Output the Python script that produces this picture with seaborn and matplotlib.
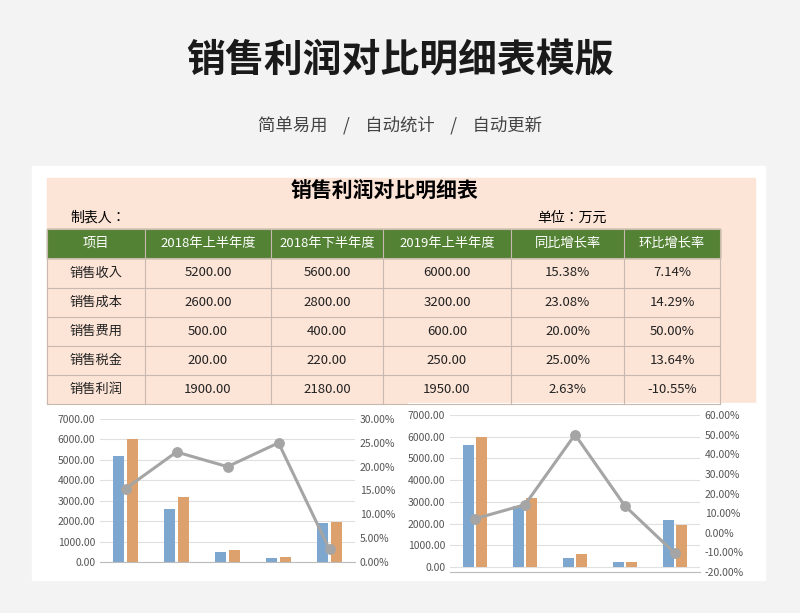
import numpy as np
import pandas as pd
import matplotlib.pyplot as plt
import seaborn as sns
from matplotlib.patches import Rectangle
from matplotlib.ticker import FuncFormatter

CJK = ['Noto Sans CJK SC', 'Noto Sans CJK JP', 'Noto Sans CJK TC', 'Noto Sans CJK KR', 'DejaVu Sans']
plt.rcParams['font.family'] = 'sans-serif'
plt.rcParams['font.sans-serif'] = CJK
plt.rcParams['axes.unicode_minus'] = False

# data
items = ['销售收入', '销售成本', '销售费用', '销售税金', '销售利润']
h1_2018 = [5200.00, 2600.00, 500.00, 200.00, 1900.00]
h2_2018 = [5600.00, 2800.00, 400.00, 220.00, 2180.00]
h1_2019 = [6000.00, 3200.00, 600.00, 250.00, 1950.00]
yoy = [15.38, 23.08, 20.00, 25.00, 2.63]
mom = [7.14, 14.29, 50.00, 13.64, -10.55]
headers = ['项目', '2018年上半年度', '2018年下半年度', '2019年上半年度', '同比增长率', '环比增长率']

W, H = 800, 613
fig = plt.figure(figsize=(8, 6.13), dpi=100)
bg = fig.add_axes([0, 0, 1, 1])
bg.set_xlim(0, W)
bg.set_ylim(H, 0)
bg.axis('off')
bg.add_patch(Rectangle((0, 0), W, H, color='#f3f3f3'))
bg.add_patch(Rectangle((32, 166), 733, 414, color='white'))
bg.text(400, 60, '销售利润对比明细表模版', ha='center', va='center', fontsize=28, fontweight='bold', color='#1a1a1a')
bg.text(400, 125, '简单易用    /    自动统计    /    自动更新', ha='center', va='center', fontsize=12.5, color='#444444')

# table
bg.add_patch(Rectangle((47, 178), 708, 226, color='#fce4d6'))
bg.text(385, 190, '销售利润对比明细表', ha='center', va='center', fontsize=15, fontweight='bold', color='black')
bg.text(70, 218, '制表人：', va='center', fontsize=10)
bg.text(537, 218, '单位：万元', va='center', fontsize=10)
cols = [47, 145, 271, 383, 511, 624, 720]
rows = [229, 258, 288, 317, 346, 375, 404]
bg.add_patch(Rectangle((cols[0], rows[0]), cols[-1] - cols[0], rows[1] - rows[0], color='#548235'))
for j, h in enumerate(headers):
    bg.text((cols[j] + cols[j + 1]) / 2, (rows[0] + rows[1]) / 2, h, ha='center', va='center', fontsize=9.5, color='white')
for i in range(len(items)):
    vals = [items[i], f'{h1_2018[i]:.2f}', f'{h2_2018[i]:.2f}', f'{h1_2019[i]:.2f}', f'{yoy[i]:.2f}%', f'{mom[i]:.2f}%']
    yc = (rows[i + 1] + rows[i + 2]) / 2
    for j, v in enumerate(vals):
        bg.text((cols[j] + cols[j + 1]) / 2, yc, v, ha='center', va='center', fontsize=9.5, color='#222222')
for y in rows:
    bg.plot([cols[0], cols[-1]], [y, y], color='#c8b8b0', lw=0.8)
for x in cols:
    bg.plot([x, x], [rows[0], rows[-1]], color='#c8b8b0', lw=0.8)
bg.add_patch(Rectangle((45, 405), 360, 163, color='white'))
bg.add_patch(Rectangle((408, 403), 347, 170, color='white'))


def px(x0, y0, x1, y1):
    return [x0 / W, 1 - y1 / H, (x1 - x0) / W, (y1 - y0) / H]


def chart(rect, a, b, line, rlim, rstep, ylim0):
    ax = fig.add_axes(rect)
    df = pd.DataFrame({'item': items * 2, 'val': a + b,
                       's': ['a'] * 5 + ['b'] * 5})
    sns.barplot(data=df, x='item', y='val', hue='s', palette=['#6fa8dc', '#f0a05a'],
                width=0.55, gap=0.2, ax=ax, legend=False, edgecolor='none')
    ax.set_ylim(ylim0, 7000)
    ax.set_yticks(np.arange(0, 7001, 1000))
    ax.yaxis.set_major_formatter(FuncFormatter(lambda v, p: f'{v:.2f}'))
    ax.grid(axis='y', color='#e0e0e0', lw=0.8)
    ax.set_axisbelow(True)
    ax.set_xticks([])
    ax.set_xlabel('')
    ax.set_ylabel('')
    for s in ['top', 'right', 'left']:
        ax.spines[s].set_visible(False)
    ax.spines['bottom'].set_color('#bbbbbb')
    ax.tick_params(axis='y', length=0, labelsize=7.5, labelcolor='#555555')
    ax2 = ax.twinx()
    sns.lineplot(x=np.arange(5), y=line, ax=ax2, color='#a5a5a5', lw=2.2,
                 marker='o', markersize=7, markeredgecolor='#a5a5a5')
    ax2.set_ylim(*rlim)
    ax2.set_yticks(np.arange(rlim[0], rlim[1] + 0.1, rstep))
    ax2.yaxis.set_major_formatter(FuncFormatter(lambda v, p: f'{v:.2f}%'))
    ax2.tick_params(axis='y', length=0, labelsize=7.5, labelcolor='#555555')
    for s in ax2.spines.values():
        s.set_visible(False)
    ax.set_xlim(-0.5, 4.5)


chart(px(100, 419, 355, 562), h1_2018, h1_2019, yoy, (0, 30), 5, 0)
chart(px(450, 415, 700, 572), h2_2018, h1_2019, mom, (-20, 60), 10, -230)
fig.savefig('out.png', dpi=100)
